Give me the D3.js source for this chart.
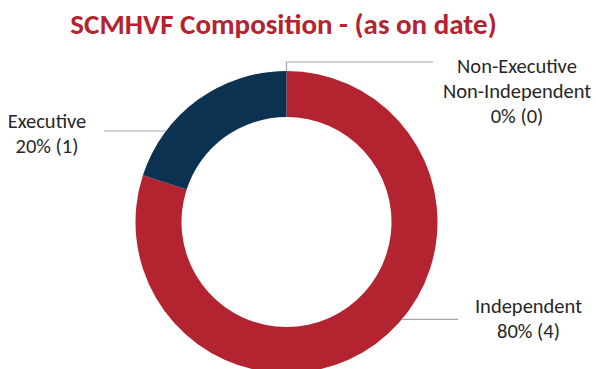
<!DOCTYPE html>
<html>
<head>
<meta charset="utf-8">
<script src="https://cdn.jsdelivr.net/npm/d3@7/dist/d3.min.js"></script>
<style>
  html, body { margin: 0; padding: 0; background: #ffffff; }
  svg { display: block; }
  text { font-family: Carlito, Calibri, Lato, "Open Sans", sans-serif; }
</style>
</head>
<body>
<svg id="chart" width="596" height="369"></svg>
<script>
// Board composition of SCMHVF
const categories = ["Independent", "Executive", "Non-Executive Non-Independent"];
const labelLines = [["Independent"], ["Executive"], ["Non-Executive", "Non-Independent"]];
const counts = [4, 1, 0];
const colors = ["#b42330", "#0c3252", "#7f7f7f"];
const title = "SCMHVF Composition - (as on date)";

const W = 596, H = 369;
const cx = 286.5, cy = 222, outerR = 151, innerR = 105;

const svg = d3.select("#chart");

svg.append("text")
  .attr("x", 283.5).attr("y", 33.5)
  .attr("text-anchor", "middle")
  .attr("fill", "#b42330")
  .attr("font-weight", "bold")
  .attr("font-size", 29)
  .text(title);

const total = d3.sum(counts);
const data = categories.map((c, i) => ({ name: c, lines: labelLines[i], value: counts[i], color: colors[i] }));

const pie = d3.pie().sort(null).value(d => d.value).startAngle(0).endAngle(2 * Math.PI);
const arc = d3.arc().innerRadius(innerR).outerRadius(outerR);
const arcs = pie(data);

const g = svg.append("g").attr("transform", `translate(${cx},${cy})`);
g.selectAll("path.slice")
  .data(arcs.filter(a => a.endAngle > a.startAngle))
  .join("path")
  .attr("class", "slice")
  .attr("d", arc)
  .attr("fill", d => d.data.color);

// label placement for each slice (anchor centre x, first baseline y, connector)
const fmtPct = v => Math.round(v / total * 100) + "%";
const lineH = 25;
const placement = {
  "Independent": { x: 528.5, y: 312.7, side: "right", lineY: 319.3, lineX2: 458 },
  "Executive": { x: 47, y: 127.7, side: "left", lineY: 131, lineX2: 104 },
  "Non-Executive Non-Independent": { x: 517, y: 72.7, side: "top", lineY: 62, lineX2: 433 }
};

const lineColor = "#a6a6a6";
arcs.forEach(a => {
  const p = placement[a.data.name];
  const mid = (a.startAngle + a.endAngle) / 2;
  let pts;
  if (p.side === "top") {
    const px = Math.sin(mid) * outerR, py = -Math.cos(mid) * outerR;
    pts = [[cx + px, cy + py], [cx + px, p.lineY], [p.lineX2, p.lineY]];
  } else {
    const dy = p.lineY - cy;
    const dx = Math.sqrt(outerR * outerR - dy * dy);
    const ex = p.side === "left" ? cx - dx : cx + dx;
    pts = [[ex, p.lineY], [p.lineX2, p.lineY]];
  }
  svg.append("path")
    .attr("d", d3.line()(pts))
    .attr("fill", "none")
    .attr("stroke", lineColor)
    .attr("stroke-width", 1.2);

  const lines = a.data.lines.concat([`${fmtPct(a.data.value)} (${a.data.value})`]);
  const t = svg.append("text")
    .attr("text-anchor", "middle")
    .attr("fill", "#262626")
    .attr("font-size", 20.5);
  lines.forEach((s, i) => {
    t.append("tspan").attr("x", p.x).attr("y", p.y + i * lineH).text(s);
  });
});
</script>
</body>
</html>
